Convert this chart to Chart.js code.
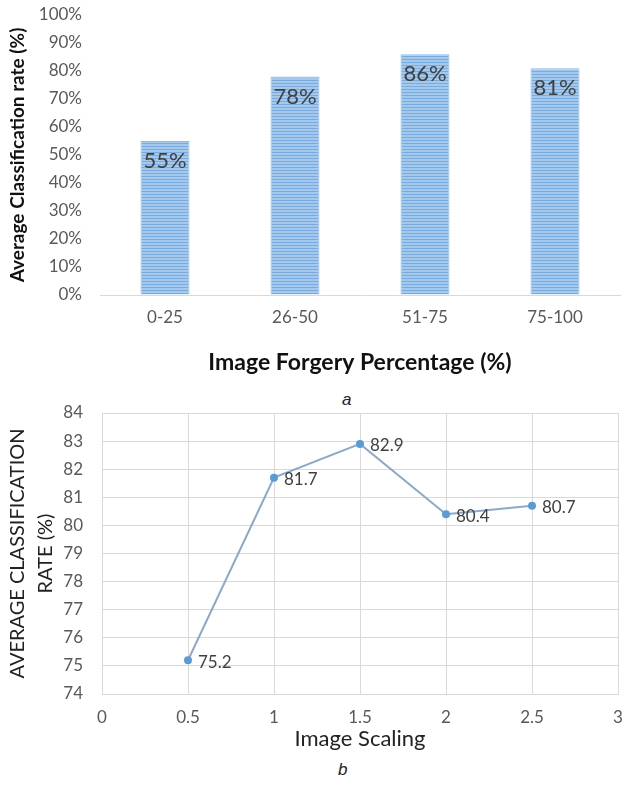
<!DOCTYPE html>
<html>
<head>
<meta charset="utf-8">
<script src="https://cdn.jsdelivr.net/npm/chart.js@4"></script>
<style>
  body { margin: 0; background: #fff; width: 626px; height: 791px; position: relative; overflow: hidden; }
  #wrapA { position: absolute; left: 0; top: 0; }
  #wrapB { position: absolute; left: 0; top: 400px; }
  .cap { position: absolute; font-family: "Liberation Sans", Arial, sans-serif; font-style: italic; font-size: 17px; color: #222; }
</style>
</head>
<body>
<div id="wrapA"><canvas id="barChart" width="626" height="380"></canvas></div>
<div class="cap" style="left:342px;top:390px">a</div>
<div id="wrapB"><canvas id="lineChart" width="626" height="356"></canvas></div>
<div class="cap" style="left:338px;top:760px">b</div>
<script>
// chart a
const forgeryLabels = ['0-25', '26-50', '51-75', '75-100'];
const forgeryRates = [55, 78, 86, 81];
// chart b
const scaleValues = [0.5, 1, 1.5, 2, 2.5];
const scaleRates = [75.2, 81.7, 82.9, 80.4, 80.7];

const tickColor = '#595959';
const gridColor = '#d9d9d9';
const fontFamily = 'Lato, "Open Sans", sans-serif';

function stripePattern(ctx) {
    const c = document.createElement('canvas');
    c.width = 4;
    c.height = 3;
    const g = c.getContext('2d');
    g.fillStyle = '#a5c9ed';
    g.fillRect(0, 0, 4, 3);
    g.fillStyle = '#78abe0';
    g.fillRect(0, 2, 4, 1);
    return ctx.createPattern(c, 'repeat');
}

// draws the value next to each mark
const valueLabels = {
    id: 'valueLabels',
    afterDatasetsDraw(chart, args, opts) {
        const ctx = chart.ctx;
        const ds = chart.data.datasets[0];
        ctx.save();
        ctx.font = opts.font;
        ctx.fillStyle = '#404040';
        ctx.textAlign = opts.align;
        ctx.textBaseline = 'middle';
        chart.getDatasetMeta(0).data.forEach((el, i) => {
            ctx.fillText(opts.format(ds.data[i]), el.x + opts.dx, el.y + opts.dy);
        });
        ctx.restore();
    }
};

// invisible tick marks give the label gap without the extra layout padding of ticks.padding
const hiddenTicks = (len, onArea) => ({
    display: true,
    drawOnChartArea: onArea,
    color: gridColor,
    drawTicks: true,
    tickLength: len,
    tickColor: 'rgba(0,0,0,0)'
});

const barCtx = document.getElementById('barChart').getContext('2d');
new Chart(barCtx, {
    type: 'bar',
    data: {
        labels: forgeryLabels,
        datasets: [{
            data: forgeryRates,
            backgroundColor: stripePattern(barCtx),
            borderColor: '#8fbbe8',
            borderWidth: { left: 1, right: 1, top: 1, bottom: 0 },
            barPercentage: 0.377,
            categoryPercentage: 1
        }]
    },
    options: {
        responsive: false,
        animation: false,
        layout: { padding: { top: 15, right: 6, left: 0, bottom: 0 } },
        plugins: {
            legend: { display: false },
            tooltip: { enabled: false },
            valueLabels: {
                font: '22px ' + fontFamily,
                align: 'center',
                dx: 0,
                dy: 20,
                format: v => v + '%'
            }
        },
        scales: {
            x: {
                grid: hiddenTicks(12, false),
                border: { display: true, color: gridColor, width: 1 },
                ticks: { color: tickColor, font: { family: fontFamily, size: 17 }, padding: 0 },
                title: {
                    display: true,
                    text: 'Image Forgery Percentage (%)',
                    color: '#111',
                    font: { family: fontFamily, size: 23, weight: 'bold' },
                    padding: { top: 4, bottom: 4 }
                },
                afterFit(scale) { scale.height = 85; }
            },
            y: {
                min: 0,
                max: 100,
                grid: hiddenTicks(18, false),
                border: { display: false },
                ticks: {
                    stepSize: 10,
                    color: tickColor,
                    font: { family: fontFamily, size: 17 },
                    padding: 0,
                    callback: v => v + '%'
                },
                title: {
                    display: true,
                    text: 'Average Classification rate (%)',
                    color: '#111',
                    font: { family: fontFamily, size: 19, weight: 'bold' },
                    padding: { top: 6, bottom: 0 }
                },
                afterFit(scale) { scale.width = 100; }
            }
        }
    },
    plugins: [valueLabels]
});

new Chart(document.getElementById('lineChart'), {
    type: 'line',
    data: {
        datasets: [{
            data: scaleValues.map((x, i) => ({ x: x, y: scaleRates[i] })),
            borderColor: '#8ea8c8',
            borderWidth: 2,
            pointRadius: 3,
            pointBackgroundColor: '#5b9bd5',
            pointBorderColor: '#5b9bd5',
            tension: 0
        }]
    },
    options: {
        responsive: false,
        animation: false,
        layout: { padding: { top: 13, right: 8, left: 0, bottom: 0 } },
        plugins: {
            legend: { display: false },
            tooltip: { enabled: false },
            valueLabels: {
                font: '17px ' + fontFamily,
                align: 'left',
                dx: 10,
                dy: 2,
                format: v => v.y.toFixed(1)
            }
        },
        scales: {
            x: {
                type: 'linear',
                min: 0,
                max: 3,
                grid: hiddenTicks(13, true),
                border: { color: gridColor },
                ticks: {
                    stepSize: 0.5,
                    color: tickColor,
                    font: { family: fontFamily, size: 17 },
                    padding: 0,
                    callback: v => String(v)
                },
                title: {
                    display: true,
                    text: 'Image Scaling',
                    color: '#222',
                    font: { family: fontFamily, size: 22 },
                    padding: { top: 4, bottom: 4 }
                },
                afterFit(scale) { scale.height = 62; }
            },
            y: {
                min: 74,
                max: 84,
                grid: hiddenTicks(19, true),
                border: { color: gridColor },
                ticks: { stepSize: 1, color: tickColor, font: { family: fontFamily, size: 17 }, padding: 0 },
                title: {
                    display: true,
                    text: ['AVERAGE CLASSIFICATION', 'RATE (%)'],
                    color: '#222',
                    font: { family: fontFamily, size: 20, lineHeight: 1.4 },
                    padding: { top: 4, bottom: 0 }
                },
                afterFit(scale) { scale.width = 102; }
            }
        }
    },
    plugins: [valueLabels]
});
</script>
</body>
</html>
